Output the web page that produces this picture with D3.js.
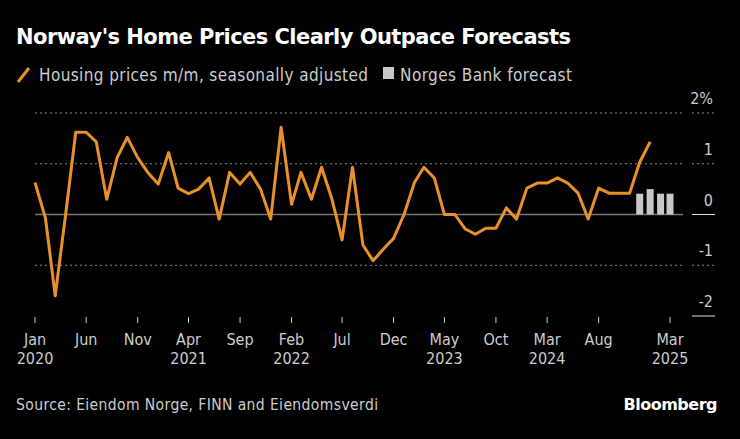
<!DOCTYPE html>
<html><head><meta charset="utf-8">
<script src="https://cdn.jsdelivr.net/npm/d3@7"></script>
<style>body{margin:0;background:#000}svg{display:block}text{font-family:"DejaVu Sans Condensed","Liberation Sans Narrow",sans-serif}</style>
</head><body><svg id="c" width="740" height="439"></svg>
<script>
const startMonth = "2020-01";
const housing = [0.63,-0.07,-1.6,0.0,1.62,1.62,1.43,0.3,1.12,1.52,1.12,0.83,
0.6,1.22,0.52,0.41,0.5,0.72,-0.09,0.83,0.6,0.83,0.5,-0.09,
1.72,0.2,0.83,0.3,0.93,0.3,-0.5,0.93,-0.6,-0.91,-0.68,-0.47,
0.0,0.63,0.93,0.72,0.0,0.0,-0.28,-0.39,-0.27,-0.27,0.13,-0.09,
0.52,0.62,0.62,0.72,0.62,0.42,-0.09,0.52,0.42,0.42,0.42,1.03,1.43];
const forecastMonths = ["2024-12","2025-01","2025-02","2025-03"];
const forecast = [0.41,0.5,0.41,0.41];
const xTicks = [["Jan","2020"],["Jun",""],["Nov",""],["Apr","2021"],["Sep",""],["Feb","2022"],["Jul",""],["Dec",""],["May","2023"],["Oct",""],["Mar","2024"],["Aug",""],["Mar","2025"]];
const xTickMonths = [0,5,10,15,20,25,30,35,40,45,50,55,62];
const yTicks = [2,1,0,-1,-2];

const svg = d3.select("#c");
const pm = d3.timeParse("%Y-%m");
const t0 = pm(startMonth);
const dates = housing.map((v,i)=>d3.timeMonth.offset(t0,i));
const x = d3.scaleTime().domain([t0, pm("2025-03")]).range([35,670]);
const y = d3.scaleLinear().domain([-2,2]).range([316,113]);

svg.append("text").attr("x",16).attr("y",44).attr("fill","#fff").attr("font-size",21).attr("font-weight","bold").style("font-family","'DejaVu Sans'").attr("textLength",555).text("Norway's Home Prices Clearly Outpace Forecasts");
svg.append("line").attr("x1",18).attr("y1",82).attr("x2",29).attr("y2",68).attr("stroke","#e8902a").attr("stroke-width",3);
svg.append("text").attr("x",39).attr("y",81).attr("fill","#ccc").attr("font-size",17).attr("textLength",329).text("Housing prices m/m, seasonally adjusted");
svg.append("rect").attr("x",383).attr("y",67).attr("width",11).attr("height",12).attr("fill","#c8c8c8");
svg.append("text").attr("x",400).attr("y",81).attr("fill","#ccc").attr("font-size",17).attr("textLength",172).text("Norges Bank forecast");

yTicks.forEach(v=>{
  if(v===0){
    svg.append("line").attr("x1",35).attr("x2",683).attr("y1",y(0)).attr("y2",y(0)).attr("stroke","#777").attr("stroke-width",1.3);
  } else if(v!==-2){
    svg.append("line").attr("x1",35).attr("x2",683).attr("y1",y(v)).attr("y2",y(v)).attr("stroke","#888").attr("stroke-dasharray","2,3");
  }
  const solid = v===0||v===-2;
  svg.append("line").attr("x1",692).attr("x2",715).attr("y1",y(v)).attr("y2",y(v)).attr("stroke",solid?"#ddd":"#888").attr("stroke-dasharray",solid?null:"2,3");
  svg.append("text").attr("x",713).attr("y",y(v)-9).attr("text-anchor","end").attr("fill","#ccc").attr("font-size",16).text(v+(v===2?"%":""));
});

const bw=7;
svg.selectAll("rect.f").data(forecast).join("rect").attr("class","f")
  .attr("x",(d,i)=>x(pm(forecastMonths[i]))-bw/2).attr("width",bw)
  .attr("y",d=>y(d)).attr("height",d=>y(0)-y(d)).attr("fill","#c8c8c8");

svg.append("path").datum(housing).attr("fill","none").attr("stroke","#e8902a").attr("stroke-width",3).attr("stroke-linejoin","round")
  .attr("d",d3.line().x((d,i)=>x(dates[i])).y(d=>y(d)));

xTickMonths.forEach((m,i)=>{
  const xx = x(d3.timeMonth.offset(t0,m));
  svg.append("line").attr("x1",xx).attr("x2",xx).attr("y1",317).attr("y2",323).attr("stroke","#ccc");
  svg.append("text").attr("x",xx).attr("y",345).attr("text-anchor","middle").attr("fill","#ccc").attr("font-size",16).text(xTicks[i][0]);
  if(xTicks[i][1]) svg.append("text").attr("x",xx).attr("y",364).attr("text-anchor","middle").attr("fill","#ccc").attr("font-size",16).text(xTicks[i][1]);
});

svg.append("text").attr("x",16).attr("y",410).attr("fill","#ccc").attr("font-size",15.5).attr("textLength",362).text("Source: Eiendom Norge, FINN and Eiendomsverdi");
svg.append("text").attr("x",717).attr("y",410).attr("text-anchor","end").attr("fill","#fff").attr("font-size",16).attr("font-weight","bold").style("font-family","'DejaVu Sans'").attr("letter-spacing",-0.5).text("Bloomberg");
</script></body></html>
